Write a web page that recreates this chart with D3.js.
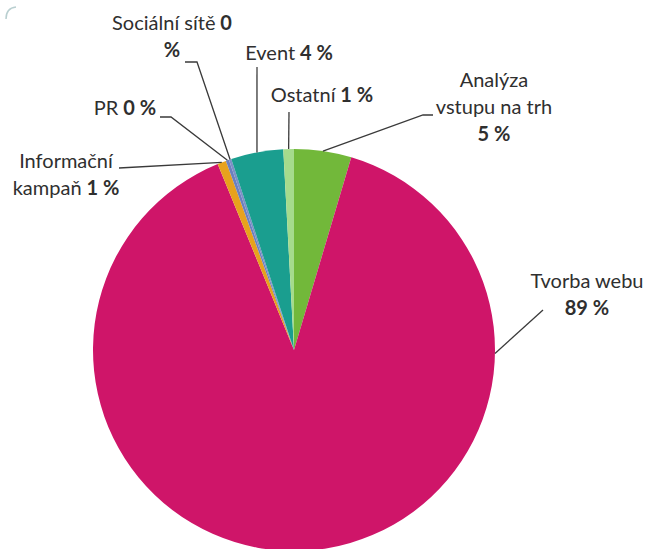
<!DOCTYPE html>
<html>
<head>
<meta charset="utf-8">
<script src="https://cdn.jsdelivr.net/npm/d3@7"></script>
<style>
  html, body { margin: 0; padding: 0; background: #fff; }
  svg { display: block; }
  .lbl { font-family: Lato, "Open Sans", sans-serif; font-size: 20px; fill: #2f2f2f; }
  .lbl .num { font-weight: bold; }
</style>
</head>
<body>
<div id="chart"></div>
<script>
// Share of budget by activity (clockwise from 12 o'clock)
const categories = ["Analýza vstupu na trh", "Tvorba webu", "Informační kampaň", "PR", "Sociální sítě", "Event", "Ostatní"];
const values = [4.6, 89.2, 0.7, 0.25, 0.2, 4.2, 0.85];
const colors = ["#72B83A", "#CF1569", "#E7A21D", "#6B80BF", "#7D8FC6", "#1A9E8F", "#A5DB8C"];

// Label placement: centre x, first baseline, words per line, leader bend points
const labelLayout = [
  { x: 494, y: 87,  breaks: [1, 3, 2], bend: [[433, 115], [423, 115]] },
  { x: 587, y: 288, breaks: [2, 2],    bend: [[543, 310]], leaderAngle: 91 },
  { x: 66,  y: 168, breaks: [1, 3],    bend: [[119, 168]] },
  { x: 125, y: 115, breaks: [3],       bend: [[160, 117], [171, 117]] },
  { x: 172, y: 30,  breaks: [3, 1],    bend: [[185, 62], [197, 62]] },
  { x: 289, y: 60,  breaks: [3],       bend: [[257, 67]] },
  { x: 322, y: 102, breaks: [3],       bend: [[289, 112]] }
];

const W = 648, H = 549;
const cx = 294, cy = 350, R = 201;
const lineH = 27;

const svg = d3.select("#chart").append("svg").attr("width", W).attr("height", H);

// faint corner of the chart frame
svg.append("path")
  .attr("d", "M6,19 Q6,8 16,7")
  .attr("fill", "none")
  .attr("stroke", "#b9cfd0")
  .attr("stroke-width", 1.5);

const pie = d3.pie().sort(null).value(d => d).startAngle(0).endAngle(2 * Math.PI);
const arcs = pie(values);
const arc = d3.arc().innerRadius(0).outerRadius(R);

const g = svg.append("g").attr("transform", `translate(${cx},${cy})`);
g.selectAll("path.slice")
  .data(arcs)
  .join("path")
  .attr("class", "slice")
  .attr("d", arc)
  .attr("fill", (d, i) => colors[i]);

// leader lines
const pct = d3.format(".0f");
arcs.forEach((a, i) => {
  const L = labelLayout[i];
  const ang = L.leaderAngle != null ? L.leaderAngle * Math.PI / 180 : (a.startAngle + a.endAngle) / 2;
  const pt = [cx + R * Math.sin(ang), cy - R * Math.cos(ang)];
  const pts = L.bend.concat([pt]);
  svg.append("path")
    .attr("d", d3.line()(pts))
    .attr("fill", "none")
    .attr("stroke", "#3a3a3a")
    .attr("stroke-width", 1.3);
});

// labels: category name in regular weight, value in bold
arcs.forEach((a, i) => {
  const L = labelLayout[i];
  const words = categories[i].split(" ").map(w => ({ t: w, b: false }))
    .concat([{ t: pct(values[i]), b: true }, { t: "%", b: true }]);
  const t = svg.append("text").attr("class", "lbl").attr("text-anchor", "middle");
  let k = 0;
  L.breaks.forEach((n, li) => {
    const lineWords = words.slice(k, k + n);
    k += n;
    const first = t.append("tspan").attr("x", L.x).attr("y", L.y + li * lineH);
    lineWords.forEach((w, wi) => {
      const s = (wi === 0 ? "" : " ") + w.t;
      if (wi === 0) {
        first.text(s).classed("num", w.b);
      } else {
        t.append("tspan").classed("num", w.b).text(s);
      }
    });
  });
});
</script>
</body>
</html>
